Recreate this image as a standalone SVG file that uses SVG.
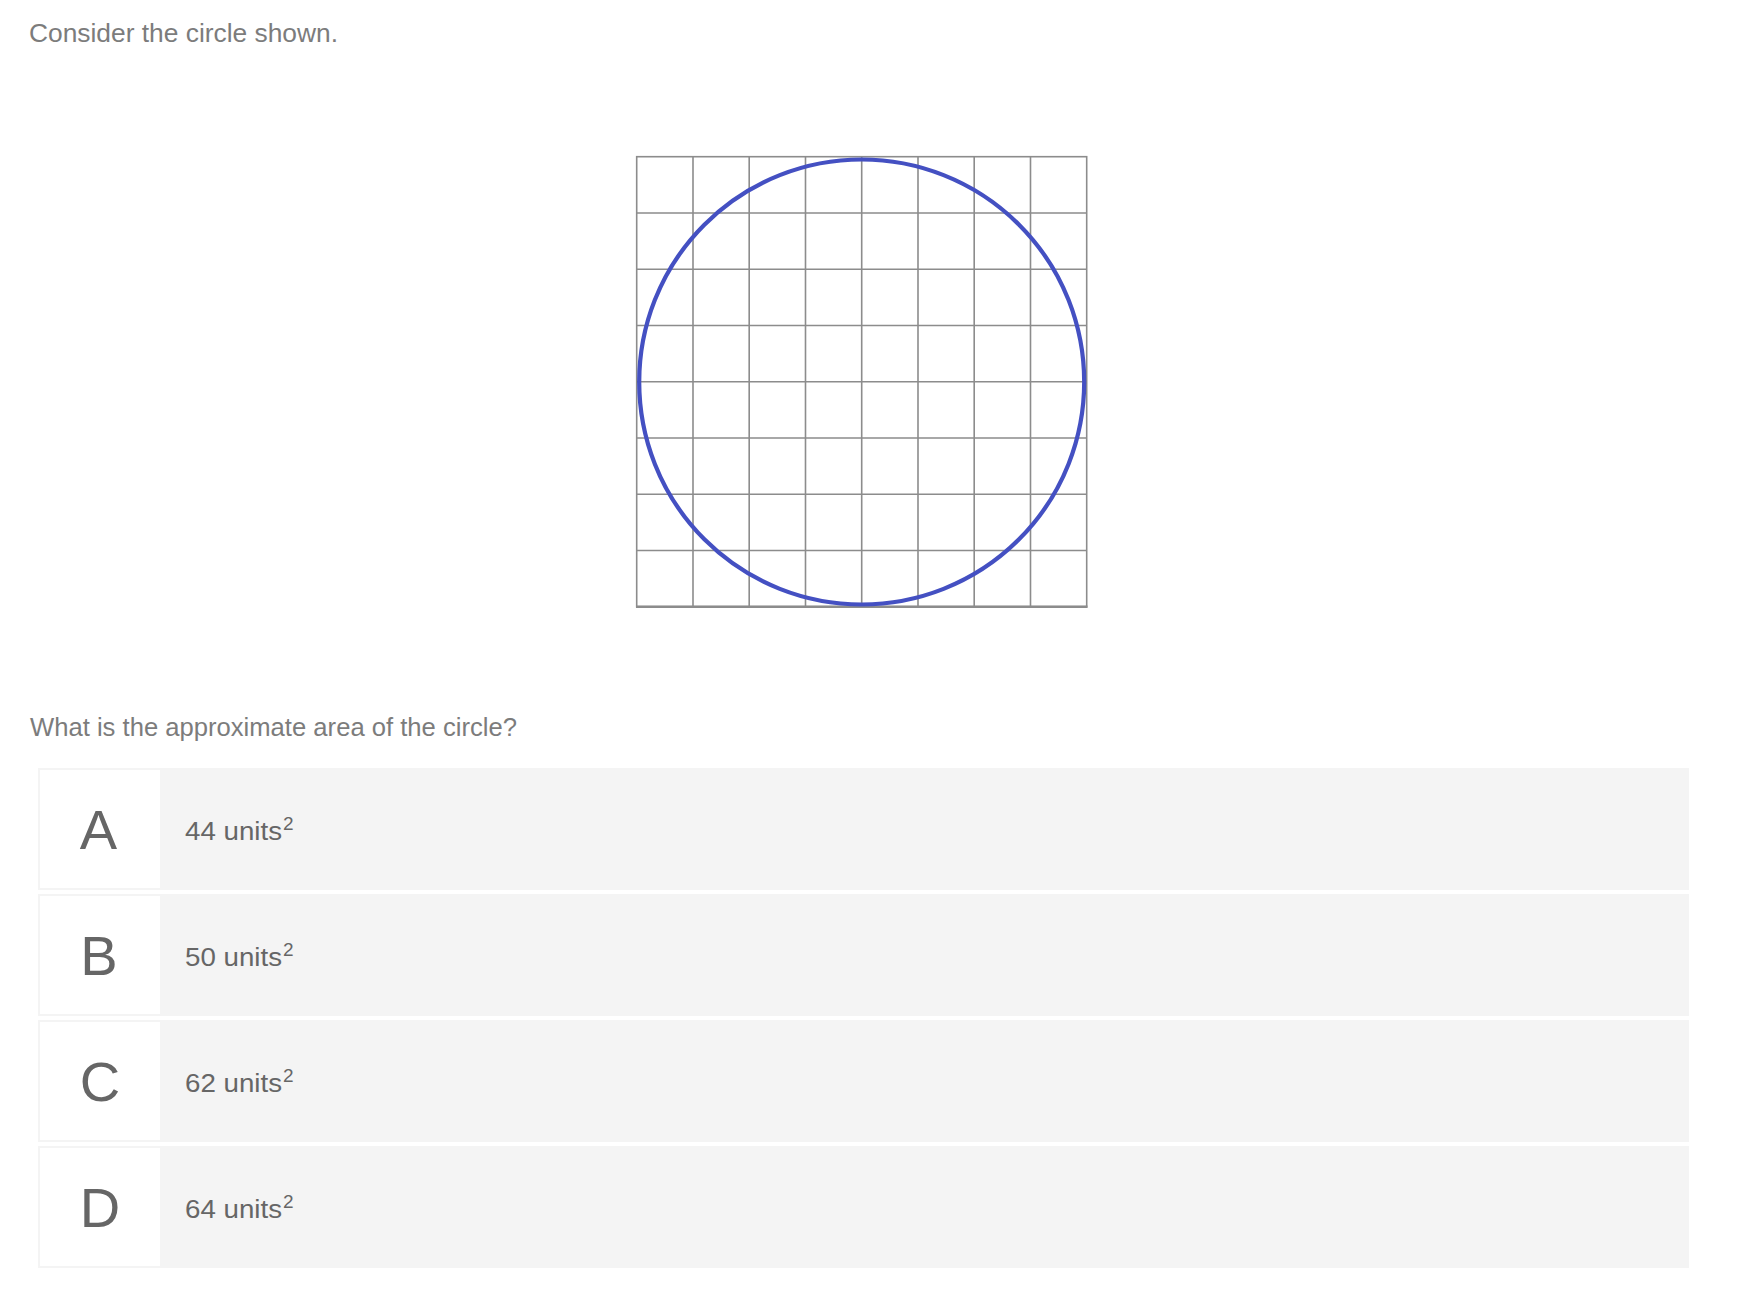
<svg xmlns="http://www.w3.org/2000/svg" width="1742" height="1294" viewBox="0 0 1742 1294">
<style>
.q{font-family:"Liberation Sans",Arial,sans-serif;font-size:26px;fill:#7c7c7c;}
.lt{font-family:"Liberation Sans",Arial,sans-serif;font-size:56px;fill:#666666;text-anchor:middle;}
.ans{font-family:"Liberation Sans",Arial,sans-serif;font-size:26px;fill:#666666;}
.sup{font-size:19px;}
.box{fill:#f4f4f4;}
.cell{fill:#ffffff;}
.grid{stroke:#8c8c8c;stroke-width:1.6;fill:none;}
</style>
<rect width="1742" height="1294" fill="#ffffff"/>
<text class="q" x="29" y="42" textLength="309" lengthAdjust="spacingAndGlyphs">Consider the circle shown.</text>
<g id="figure">
<path class="grid" d="M693 156.7V606.7M749.2 156.7V606.7M805.5 156.7V606.7M861.7 156.7V606.7M918 156.7V606.7M974.2 156.7V606.7M1030.5 156.7V606.7M636.7 213H1086.7M636.7 269.2H1086.7M636.7 325.5H1086.7M636.7 381.7H1086.7M636.7 438H1086.7M636.7 494.2H1086.7M636.7 550.5H1086.7"/>
<rect class="grid" x="636.7" y="156.7" width="450" height="450"/>
<line x1="636" y1="606.7" x2="1087.5" y2="606.7" stroke="#8c8c8c" stroke-width="2.6"/>
<circle cx="861.7" cy="382" r="222.5" fill="none" stroke="#4450c2" stroke-width="4.2"/>
</g>
<text class="q" x="30" y="736" textLength="487" lengthAdjust="spacingAndGlyphs">What is the approximate area of the circle?</text>
<g id="optA">
<rect class="box" x="38" y="768" width="1651" height="122"/>
<rect class="cell" x="40" y="770" width="120" height="118"/>
<text class="lt" x="98.5" y="849">A</text>
<text class="ans" x="185" y="840"><tspan textLength="97" lengthAdjust="spacingAndGlyphs">44 units</tspan><tspan class="sup" x="283" dy="-10">2</tspan></text>
</g>
<g id="optB">
<rect class="box" x="38" y="894" width="1651" height="122"/>
<rect class="cell" x="40" y="896" width="120" height="118"/>
<text class="lt" x="99" y="975">B</text>
<text class="ans" x="185" y="966"><tspan textLength="97" lengthAdjust="spacingAndGlyphs">50 units</tspan><tspan class="sup" x="283" dy="-10">2</tspan></text>
</g>
<g id="optC">
<rect class="box" x="38" y="1020" width="1651" height="122"/>
<rect class="cell" x="40" y="1022" width="120" height="118"/>
<text class="lt" x="100" y="1101">C</text>
<text class="ans" x="185" y="1092"><tspan textLength="97" lengthAdjust="spacingAndGlyphs">62 units</tspan><tspan class="sup" x="283" dy="-10">2</tspan></text>
</g>
<g id="optD">
<rect class="box" x="38" y="1146" width="1651" height="122"/>
<rect class="cell" x="40" y="1148" width="120" height="118"/>
<text class="lt" x="100" y="1227">D</text>
<text class="ans" x="185" y="1218"><tspan textLength="97" lengthAdjust="spacingAndGlyphs">64 units</tspan><tspan class="sup" x="283" dy="-10">2</tspan></text>
</g>
<g id="connectors"/>
</svg>
